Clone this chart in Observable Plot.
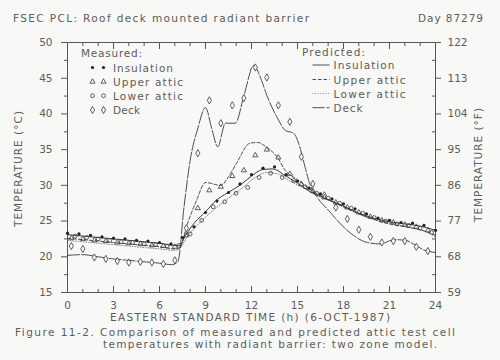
<!DOCTYPE html>
<html><head><meta charset="utf-8">
<script src="https://cdn.jsdelivr.net/npm/d3@7"></script>
<script src="https://cdn.jsdelivr.net/npm/@observablehq/plot@0.6"></script>
<style>
html,body{margin:0;padding:0;background:#f8f8f6;}
</style></head><body><div id="c"></div>
<script>
// ---- data (hours, °C) ----
const xMajor = [0,3,6,9,12,15,18,21,24];
const xMinor = [1,2,4,5,7,8,10,11,13,14,16,17,19,20,22,23];
const yMajor = [15,20,25,30,35,40,45,50];
const yMinor = [17.5,22.5,27.5,32.5,37.5,42.5,47.5];
const fLabels = ["59","68","77","86","95","104","113","122"];

// measured
const insT = [0,0.75,1.5,2.25,3,3.75,4.5,5.25,6,6.75,7.5,8.25,9,9.75,10.5,11.25,12,12.75,13.5,14.25,15,15.75,16.5,17.25,18,18.75,19.5,20.25,21,21.75,22.5,23.25,24];
const insV = [23.3,23.2,23.0,22.8,22.6,22.5,22.3,22.2,22.0,21.8,22.7,24.2,26.2,27.8,29.0,30.2,31.5,32.4,32.6,31.5,30.6,29.6,28.8,28.1,27.4,26.7,26.0,25.4,25.1,24.8,24.7,24.4,23.7];
const upT = [0.25,1,1.75,2.5,3.25,4,4.75,5.5,6.25,7,7.75,8.5,9.25,10,10.75,11.5,12.25,13,13.75,14.5,15.25,16,16.75,17.5,18.25,19,19.75,20.5,21.25,22,22.75,23.5];
const upV = [22.6,22.5,22.3,22.2,22.0,21.9,21.8,21.6,21.5,21.4,23.0,26.8,29.3,29.8,31.3,32.1,34.2,35.0,33.9,31.6,30.2,29.2,28.3,27.6,26.9,26.2,25.6,25.1,24.8,24.5,24.2,23.7];
const loT = [0.5,1.25,2,2.75,3.5,4.25,5,5.75,6.5,7.25,8,8.75,9.5,10.25,11,11.75,12.5,13.25,14,14.75,15.5,16.25,17,17.75,18.5,19.25,20,20.75,21.5,22.25,23,23.75];
const loV = [22.9,22.7,22.5,22.3,22.1,22.0,21.8,21.7,21.5,21.6,23.2,25.1,27.0,27.7,28.9,29.7,31.1,31.7,31.1,30.7,29.8,28.9,28.2,27.5,26.8,26.1,25.5,25.0,24.6,24.4,24.0,23.4];
const deckT = [0.25,1,1.75,2.5,3.25,4,4.75,5.5,6.25,7,7.75,8.5,9.25,10,10.75,11.5,12.25,13,13.75,14.5,15.25,16,16.75,17.5,18.25,19,19.75,20.5,21.25,22,22.75,23.5];
const deckV = [21.5,21.1,19.9,19.7,19.4,19.2,19.3,19.2,19.0,19.5,24.0,34.5,41.9,38.7,41.2,42.2,46.5,45.1,41.2,38.9,34.0,30.2,28.6,26.9,25.3,23.8,22.8,22.0,22.2,22.2,21.4,20.8];

// predicted
const pInsT = [0,1,2,3,4,5,6,7,7.3,7.7,8.3,9.0,9.7,10.4,11.3,12.0,12.7,13.4,14.1,15.0,16.0,17.0,18.0,19.0,20.0,21.0,22.0,23.0,24.0];
const pInsV = [23.1,22.9,22.7,22.5,22.3,22.1,21.9,21.6,21.6,23.0,24.8,26.3,27.9,28.9,30.1,31.3,32.2,32.3,31.5,30.3,28.9,28.0,27.1,26.1,25.4,24.9,24.6,24.3,23.7];
const pUpT = [0,1,2,3,4,5,6,7,7.3,7.8,8.4,9.0,10.0,10.5,11.0,11.9,12.4,13.0,13.7,14.2,15.0,16.0,17.0,18.0,19.0,20.0,21.0,22.0,23.0,24.0];
const pUpV = [22.6,22.4,22.2,22.0,21.8,21.6,21.4,21.1,21.2,24.5,27.8,30.4,30.0,31.2,33.0,35.9,36.0,35.3,33.9,32.1,30.8,29.2,28.0,27.0,26.0,25.2,24.6,24.2,23.8,23.0];
const pLoT = [0,1,2,3,4,5,6,7,7.3,7.8,8.5,9.5,10.5,11.5,12.3,13.0,13.7,14.5,15.5,16.5,17.5,18.5,19.5,20.5,21.5,22.5,23.5,24];
const pLoV = [22.3,22.1,21.9,21.7,21.5,21.3,21.1,20.9,21.1,22.8,24.5,26.5,28.2,29.8,31.2,31.8,31.6,30.6,29.5,28.5,27.5,26.5,25.6,25.0,24.5,24.0,23.4,22.8];
const pDeckT = [0,1,2,3,4,5,6,6.8,7.2,7.6,8.0,8.5,9.0,9.4,9.8,10.3,10.95,11.5,12.15,12.6,13.0,13.7,14.2,14.75,15.2,15.5,15.8,16.3,17.15,17.8,18.65,19.55,20.4,21.3,22.05,22.7,23.2,24];
const pDeckV = [20.2,20.3,20.0,19.7,19.5,19.3,19.1,18.9,19.3,27.0,33.5,38.0,40.9,38.0,35.4,38.7,38.7,42.5,46.8,45.0,42.6,39.4,37.7,37.3,35.0,32.5,30.2,28.3,26.2,24.6,23.0,22.0,21.8,22.4,22.3,21.6,21.0,20.6];

const rows = (t, v) => t.map((x, i) => ({t: x, v: v[i]}));
const ink = "#3a3a3a";
const txt = "#5c5c5c";
const blank = () => "";

const chart = Plot.plot({
  width: 500, height: 360,
  marginLeft: 67, marginRight: 65, marginTop: 42, marginBottom: 68,
  style: {background: "#f8f8f6", color: txt, fontFamily: "DejaVu Sans", fontSize: "10.5px"},
  x: {domain: [0, 24], label: null},
  y: {domain: [15, 50], label: null},
  marks: [
    Plot.frame({stroke: "#555"}),
    Plot.axisX({ticks: xMajor, tickSize: 0, tickPadding: 9, label: null, fontSize: 10.5}),
    Plot.axisX({ticks: xMajor, tickSize: -6, tickFormat: blank, label: null, stroke: "#555"}),
    Plot.axisX({ticks: xMinor, tickSize: -3, tickFormat: blank, label: null, stroke: "#555"}),
    Plot.axisX({anchor: "top", ticks: xMajor, tickSize: -6, tickFormat: blank, label: null, stroke: "#555"}),
    Plot.axisX({anchor: "top", ticks: xMinor, tickSize: -3, tickFormat: blank, label: null, stroke: "#555"}),
    Plot.axisY({ticks: yMajor, tickSize: 6, tickPadding: 9, label: null, fontSize: 10.5, stroke: "#555"}),
    Plot.axisY({ticks: yMinor, tickSize: 3, tickFormat: blank, label: null, stroke: "#555"}),
    Plot.axisY({anchor: "right", ticks: yMajor, tickSize: 5, tickPadding: 7, label: null, fontSize: 10.5,
      stroke: "#555", tickFormat: d => fLabels[yMajor.indexOf(d)]}),
    Plot.axisY({anchor: "right", ticks: yMinor, tickSize: -4, tickFormat: blank, label: null, stroke: "#555"}),
    // predicted lines
    Plot.line(rows(pLoT, pLoV), {x: "t", y: "v", stroke: "#777", strokeWidth: 0.9, strokeDasharray: "1,1.6", curve: "monotone-x"}),
    Plot.line(rows(pUpT, pUpV), {x: "t", y: "v", stroke: ink, strokeWidth: 0.9, strokeDasharray: "3.5,2", curve: "monotone-x"}),
    Plot.line(rows(pDeckT, pDeckV), {x: "t", y: "v", stroke: ink, strokeWidth: 0.9, strokeDasharray: "12,2", curve: "monotone-x"}),
    Plot.line(rows(pInsT, pInsV), {x: "t", y: "v", stroke: ink, strokeWidth: 1, curve: "monotone-x"}),
    // measured points
    Plot.dot(rows(deckT, deckV), {x: "t", y: "v", symbol: "diamond", r: 2.2, stroke: ink, strokeWidth: 0.8, fill: "#f8f8f6"}),
    Plot.dot(rows(loT, loV), {x: "t", y: "v", symbol: "circle", r: 1.9, stroke: ink, strokeWidth: 0.8, fill: "none"}),
    Plot.dot(rows(upT, upV), {x: "t", y: "v", symbol: "triangle", r: 1.9, stroke: ink, strokeWidth: 0.8, fill: "none"}),
    Plot.dot(rows(insT, insV), {x: "t", y: "v", symbol: "circle", r: 1.6, fill: "#222", stroke: "none"})
  ]
});

const svg = d3.select(chart);
function addText(s, x, y, len, opts = {}) {
  const t = svg.append("text").text(s)
    .attr("x", x).attr("y", y)
    .attr("fill", txt)
    .attr("font-family", "DejaVu Sans")
    .attr("font-size", opts.size || 10.5)
    .attr("text-anchor", opts.anchor || "start");
  if (len) t.attr("textLength", len).attr("lengthAdjust", "spacing");
  if (opts.rotate) t.attr("transform", `rotate(-90 ${x} ${y})`).attr("dominant-baseline", "middle");
  return t;
}
addText("FSEC PCL: Roof deck mounted radiant barrier", 13, 22, 296);
addText("Day 87279", 418, 22, 65);
addText("EASTERN STANDARD TIME (h) (6-OCT-1987)", 110, 321, 280);
addText("Figure 11-2. Comparison of measured and predicted attic test cell", 15, 336, 440);
addText("temperatures with radiant barrier: two zone model.", 103, 348, 334);
addText("TEMPERATURE (°C)", 19, 169, 116, {rotate: true, anchor: "middle"});
addText("TEMPERATURE (°F)", 479, 165, 114, {rotate: true, anchor: "middle"});

// legends
const legNames = ["Insulation", "Upper attic", "Lower attic", "Deck"];
const legSym = [
  {type: d3.symbolCircle, r: 1.6, fill: "#222", stroke: "none"},
  {type: d3.symbolTriangle, r: 1.9, fill: "none", stroke: ink},
  {type: d3.symbolCircle, r: 1.9, fill: "none", stroke: ink},
  {type: d3.symbolDiamond, r: 2.2, fill: "none", stroke: ink}
];
const mRows = [67.5, 81.7, 95.7, 110];
const mLens = [60, 70, 70, 27];
addText("Measured:", 81, 57, 61);
legNames.forEach((n, i) => {
  [92.5, 103.5].forEach(x => {
    svg.append("path")
      .attr("d", d3.symbol(legSym[i].type, legSym[i].r * legSym[i].r * Math.PI)())
      .attr("transform", `translate(${x},${mRows[i]})`)
      .attr("fill", legSym[i].fill).attr("stroke", legSym[i].stroke).attr("stroke-width", 0.8);
  });
  addText(n, 113, mRows[i] + 4, mLens[i]);
});
const pRows = [65, 79.5, 93.5, 107.7];
const pLens = [61, 72, 72, 29];
const pDash = [null, "3.5,2", "1,1.6", "12,2"];
addText("Predicted:", 302, 56, 63);
legNames.forEach((n, i) => {
  svg.append("line").attr("x1", 312.5).attr("x2", 329.5)
    .attr("y1", pRows[i]).attr("y2", pRows[i])
    .attr("stroke", i === 2 ? "#777" : ink).attr("stroke-width", 0.9)
    .attr("stroke-dasharray", pDash[i]);
  addText(n, 333.5, pRows[i] + 4, pLens[i]);
});

document.getElementById("c").appendChild(chart);
</script></body></html>
